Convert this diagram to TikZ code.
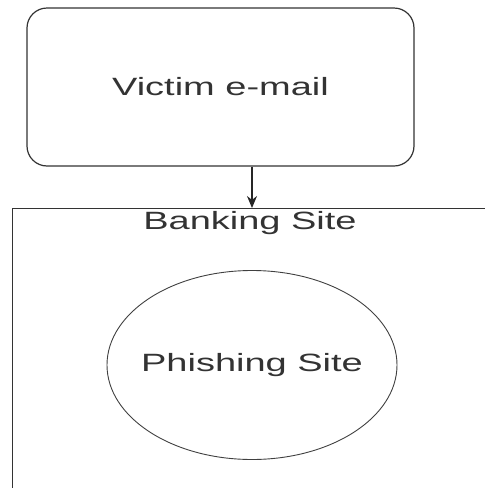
\documentclass[tikz,border=0pt]{standalone}
\usepackage{fontspec}
\setmainfont{Liberation Sans}[FakeStretch=1.52]
\usetikzlibrary{arrows.meta,shapes.geometric}

\begin{document}
\begin{tikzpicture}[x=1pt,y=-1pt,>={Stealth[length=12pt,width=10pt]},
  every node/.style={text=black!80,font=\fontsize{25}{30}\selectfont},
  box/.style={draw=black!80,line width=1.2pt,inner sep=0pt},
  site/.style={ellipse,draw=black!75,line width=0.9pt,inner sep=0pt}]
  \useasboundingbox (0,0) rectangle (485,488);
  \clip (0,0) rectangle (485,488);
  \node[box,rounded corners=20pt,minimum width=387pt,minimum height=158pt] (mail) at (220.5,87) {Victim e-mail};
  \node[box,anchor=north west,minimum width=520pt,minimum height=320pt] (bank) at (12,208) {};
  \node (banklabel) at (250,223) {Banking Site};
  \node[site,minimum width=290pt,minimum height=189pt,label=center:{Phishing Site}] (phish) at (252,365) {};
  \draw[->,line width=1.2pt,black!85] (mail.south -| phish.north) -- (bank.north -| phish.north);
\end{tikzpicture}
\end{document}
